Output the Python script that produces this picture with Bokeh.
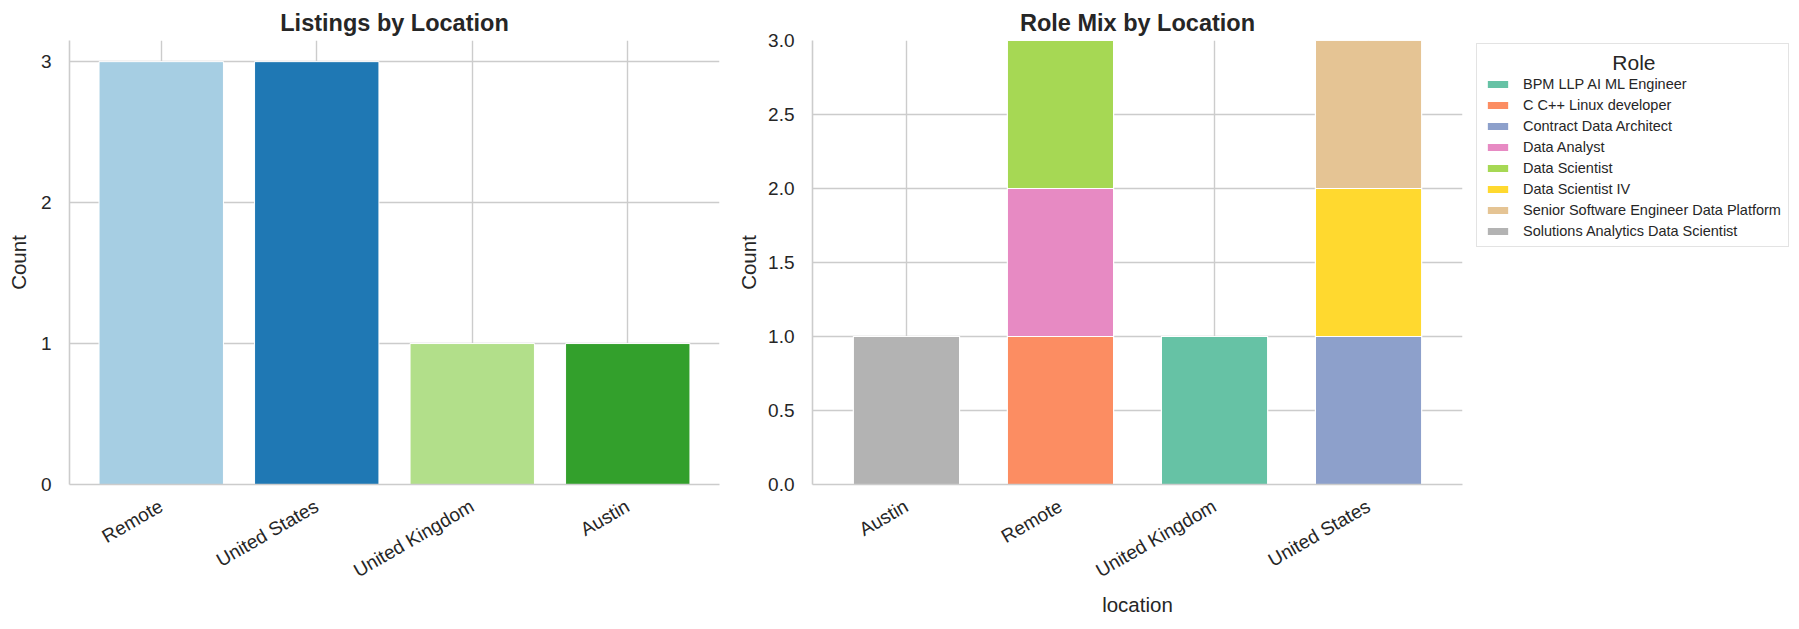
import math
from bokeh.plotting import figure
from bokeh.models import (FactorRange, Range1d, FixedTicker, Legend, LegendItem,
                          ColumnDataSource, NumeralTickFormatter)
from bokeh.layouts import row
from bokeh.embed import file_html
from bokeh.resources import INLINE

# ---------------- data ----------------
loc_order = ["Remote", "United States", "United Kingdom", "Austin"]
loc_counts = [3, 3, 1, 1]
loc_colors = ["#a6cee3", "#1f78b4", "#b2df8a", "#33a02c"]

mix_locations = ["Austin", "Remote", "United Kingdom", "United States"]
roles = ["BPM LLP AI ML Engineer", "C C++ Linux developer", "Contract Data Architect",
         "Data Analyst", "Data Scientist", "Data Scientist IV",
         "Senior Software Engineer Data Platform", "Solutions Analytics Data Scientist"]
bpm_llp_ai_ml_engineer = [0, 0, 1, 0]
c_cpp_linux_developer = [0, 1, 0, 0]
contract_data_architect = [0, 0, 0, 1]
data_analyst = [0, 1, 0, 0]
data_scientist = [0, 1, 0, 0]
data_scientist_iv = [0, 0, 0, 1]
senior_swe_data_platform = [0, 0, 0, 1]
solutions_analytics_ds = [1, 0, 0, 0]
role_colors = ["#66c2a5", "#fc8d62", "#8da0cb", "#e78ac3",
               "#a6d854", "#ffd92f", "#e5c494", "#b3b3b3"]

left_yticks = [0, 1, 2, 3]
right_yticks = [0, 0.5, 1.0, 1.5, 2.0, 2.5, 3.0]

FONT = "Liberation Sans"
TXT = "#262626"
GRID = "#cccccc"


def style(p, yticks, fmt=None):
    p.outline_line_color = None
    p.background_fill_color = "white"
    p.border_fill_color = "white"
    p.title.text_font = FONT
    p.title.text_font_size = "23.5px"
    p.title.text_font_style = "bold"
    p.title.text_color = TXT
    p.title.align = "center"
    p.title.standoff = 10
    for g in (p.xgrid, p.ygrid):
        g.grid_line_color = GRID
        g.grid_line_width = 1.4
    p.ygrid.ticker = FixedTicker(ticks=yticks)
    p.yaxis.ticker = FixedTicker(ticks=yticks)
    if fmt is not None:
        p.yaxis.formatter = fmt
    for ax in (p.xaxis, p.yaxis):
        ax.axis_line_color = GRID
        ax.axis_line_width = 1.6
        ax.major_tick_line_color = None
        ax.minor_tick_line_color = None
        ax.major_label_text_font = FONT
        ax.major_label_text_font_size = "19px"
        ax.major_label_text_color = TXT
        ax.axis_label_text_font = FONT
        ax.axis_label_text_font_size = "20.5px"
        ax.axis_label_text_font_style = "normal"
        ax.axis_label_text_color = TXT
    p.yaxis.major_label_standoff = 12
    p.yaxis.axis_label_standoff = 8
    p.xaxis.major_label_standoff = 14
    p.xaxis.major_label_orientation = math.pi / 6
    p.yaxis.axis_label = "Count"


# ---------------- left chart ----------------
p1 = figure(x_range=FactorRange(*loc_order, range_padding=0.045),
            y_range=Range1d(0, 3.15),
            frame_width=650, frame_height=444, output_backend="svg", toolbar_location=None,
            title="Listings by Location",
            min_border_left=69, min_border_right=14, min_border_top=40,
            min_border_bottom=136)
src1 = ColumnDataSource(dict(loc=loc_order, n=loc_counts, c=loc_colors))
p1.vbar(x="loc", top="n", width=0.8, source=src1, fill_color="c",
        line_color="white", line_width=1)
style(p1, left_yticks)

# ---------------- right chart ----------------
p2 = figure(x_range=FactorRange(*mix_locations, range_padding=0.055),
            y_range=Range1d(0, 3.0),
            frame_width=650, frame_height=444, output_backend="svg", toolbar_location=None,
            title="Role Mix by Location",
            min_border_left=79, min_border_right=328, min_border_top=40,
            min_border_bottom=136)
cols = [bpm_llp_ai_ml_engineer, c_cpp_linux_developer, contract_data_architect,
        data_analyst, data_scientist, data_scientist_iv,
        senior_swe_data_platform, solutions_analytics_ds]
data2 = {"loc": mix_locations}
keys = []
for i, vals in enumerate(cols):
    k = "r%d" % i
    keys.append(k)
    data2[k] = vals
src2 = ColumnDataSource(data2)
rs = p2.vbar_stack(keys, x="loc", width=0.69, source=src2, color=role_colors,
                   line_color="white", line_width=1.2)
style(p2, right_yticks, NumeralTickFormatter(format="0.0"))
p2.yaxis.axis_label_standoff = 5
p2.xaxis.axis_label = "location"
p2.xaxis.axis_label_standoff = 0

legend = Legend(items=[LegendItem(label=r, renderers=[rr]) for r, rr in zip(roles, rs)],
                location=(14, 237))
legend.title = "\u00a0" * 22 + "Role"
legend.title_text_font = FONT
legend.title_text_font_size = "21px"
legend.title_text_font_style = "normal"
legend.title_text_color = TXT
legend.title_text_line_height = 1.0
legend.title_standoff = 1
legend.label_text_font = FONT
legend.label_text_font_size = "14.5px"
legend.label_text_color = TXT
legend.label_height = 15
legend.glyph_height = 10
legend.glyph_width = 27
legend.label_standoff = 12
legend.spacing = 5
legend.padding = 7
legend.margin = 7
legend.border_line_color = "#c8c8c8"
legend.border_line_width = 1.2
legend.background_fill_color = "white"
p2.add_layout(legend, "right")

layout = row(p1, p2)
open("out.html", "w").write(file_html(layout, INLINE))
